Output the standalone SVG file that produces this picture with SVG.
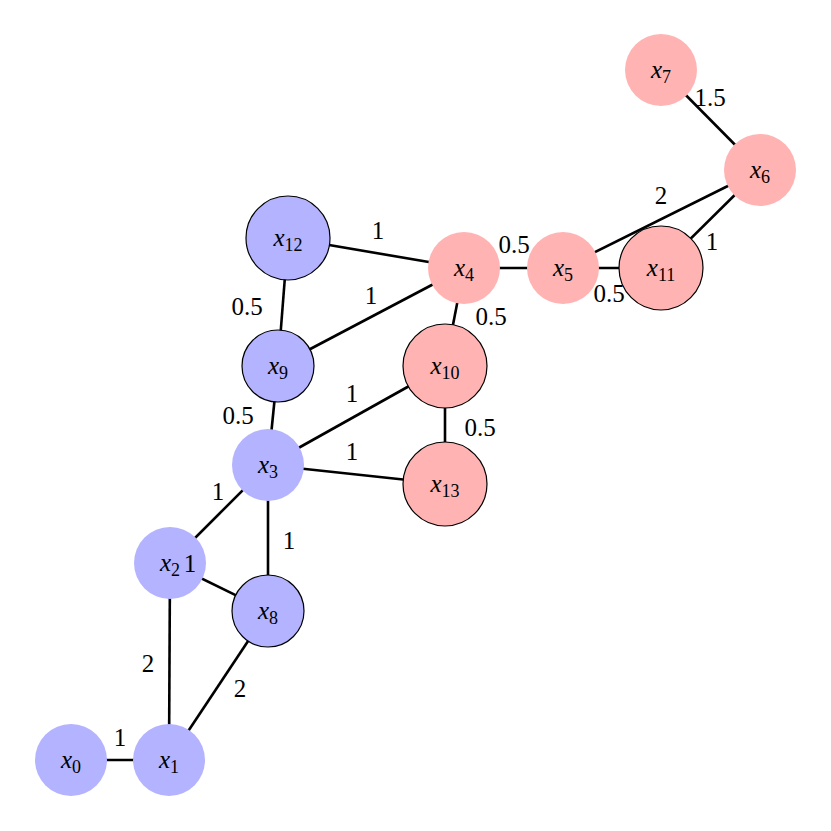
<svg xmlns="http://www.w3.org/2000/svg" width="831" height="831" viewBox="0 0 831 831">
<style>
.b{fill:#b3b3ff}.r{fill:#ffb3b3}.s{stroke:#000;stroke-width:1.2}
.e line{stroke:#000;stroke-width:2.6}
text{font-family:"Liberation Serif","DejaVu Serif",serif;font-size:25px;text-anchor:middle}
.n text{font-style:italic}
.sub{font-size:18px;font-style:normal}
.l text{font-size:25px}
</style>
<rect width="831" height="831" fill="#fff"/>
<g class="e">
<line x1="71" y1="760" x2="169" y2="760"/>
<line x1="169" y1="760" x2="170" y2="563"/>
<line x1="169" y1="760" x2="268" y2="611"/>
<line x1="170" y1="563" x2="268" y2="611"/>
<line x1="170" y1="563" x2="268" y2="465"/>
<line x1="268" y1="465" x2="268" y2="611"/>
<line x1="268" y1="465" x2="278" y2="366"/>
<line x1="268" y1="465" x2="445" y2="366"/>
<line x1="268" y1="465" x2="445" y2="484"/>
<line x1="278" y1="366" x2="288" y2="238"/>
<line x1="278" y1="366" x2="464" y2="268"/>
<line x1="288" y1="238" x2="464" y2="268"/>
<line x1="464" y1="268" x2="445" y2="366"/>
<line x1="445" y1="366" x2="445" y2="484"/>
<line x1="464" y1="268" x2="563" y2="268"/>
<line x1="563" y1="268" x2="661" y2="268"/>
<line x1="563" y1="268" x2="760" y2="170"/>
<line x1="661" y1="268" x2="760" y2="170"/>
<line x1="760" y1="170" x2="661" y2="70"/>
</g>
<g class="n">
<g id="x0"><circle class="b" cx="71" cy="760" r="36"/><text x="71" y="768">x<tspan class="sub" dy="5">0</tspan></text></g>
<g id="x1"><circle class="b" cx="169" cy="760" r="36"/><text x="169" y="768">x<tspan class="sub" dy="5">1</tspan></text></g>
<g id="x2"><circle class="b" cx="170" cy="563" r="36"/><text x="170" y="571">x<tspan class="sub" dy="5">2</tspan></text></g>
<g id="x8"><circle class="b s" cx="268" cy="611" r="36"/><text x="268" y="619">x<tspan class="sub" dy="5">8</tspan></text></g>
<g id="x3"><circle class="b" cx="268" cy="465" r="36"/><text x="268" y="473">x<tspan class="sub" dy="5">3</tspan></text></g>
<g id="x9"><circle class="b s" cx="278" cy="366" r="36"/><text x="278" y="374">x<tspan class="sub" dy="5">9</tspan></text></g>
<g id="x12"><circle class="b s" cx="288" cy="238" r="42"/><text x="288" y="246">x<tspan class="sub" dy="5">12</tspan></text></g>
<g id="x4"><circle class="r" cx="464" cy="268" r="36"/><text x="464" y="276">x<tspan class="sub" dy="5">4</tspan></text></g>
<g id="x5"><circle class="r" cx="563" cy="268" r="36"/><text x="563" y="276">x<tspan class="sub" dy="5">5</tspan></text></g>
<g id="x11"><circle class="r s" cx="661" cy="268" r="42"/><text x="661" y="276">x<tspan class="sub" dy="5">11</tspan></text></g>
<g id="x6"><circle class="r" cx="760" cy="170" r="36"/><text x="760" y="178">x<tspan class="sub" dy="5">6</tspan></text></g>
<g id="x7"><circle class="r" cx="661" cy="70" r="36"/><text x="661" y="78">x<tspan class="sub" dy="5">7</tspan></text></g>
<g id="x10"><circle class="r s" cx="445" cy="366" r="42"/><text x="445" y="374">x<tspan class="sub" dy="5">10</tspan></text></g>
<g id="x13"><circle class="r s" cx="445" cy="484" r="42"/><text x="445" y="492">x<tspan class="sub" dy="5">13</tspan></text></g>
</g>
<g class="l">
<text x="120" y="746">1</text>
<text x="148" y="672">2</text>
<text x="240" y="697">2</text>
<text x="190" y="572">1</text>
<text x="218" y="500">1</text>
<text x="289" y="549">1</text>
<text x="238" y="424">0.5</text>
<text x="352" y="402">1</text>
<text x="352" y="460">1</text>
<text x="247" y="315">0.5</text>
<text x="371" y="304">1</text>
<text x="378" y="239">1</text>
<text x="491" y="325">0.5</text>
<text x="480" y="436">0.5</text>
<text x="514" y="253">0.5</text>
<text x="609" y="302">0.5</text>
<text x="661" y="204">2</text>
<text x="712" y="250">1</text>
<text x="710" y="106">1.5</text>
</g>
</svg>
